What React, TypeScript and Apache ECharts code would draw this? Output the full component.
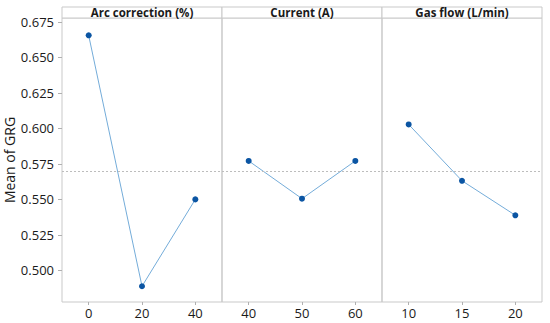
import React, { useEffect, useRef } from "react";
import * as echarts from "echarts";

const panelTitles = ["Arc correction (%)", "Current (A)", "Gas flow (L/min)"];
const arcLevels = ["0", "20", "40"];
const currentLevels = ["40", "50", "60"];
const gasLevels = ["10", "15", "20"];
const arcMeans = [0.6656, 0.4888, 0.55];
const currentMeans = [0.5771, 0.5505, 0.5771];
const gasMeans = [0.6028, 0.5631, 0.5388];
const overallMean = 0.5682;
const yTicks = [0.5, 0.525, 0.55, 0.575, 0.6, 0.625, 0.65, 0.675];

const FONT = "'Open Sans', 'Noto Sans', sans-serif";

export default function App() {
  const ref = useRef<HTMLDivElement>(null);
  useEffect(() => {
    if (!ref.current) return;
    const chart = echarts.init(ref.current, null, { renderer: "svg" });
    const levels = [arcLevels, currentLevels, gasLevels];
    const means = [arcMeans, currentMeans, gasMeans];
    const left0 = 62;
    const pw = 160;
    const top = 18;
    const h = 284;
    const grids = levels.map((_, i) => ({
      left: left0 + i * pw,
      top,
      width: pw,
      height: h,
      show: true,
      borderColor: "#c9c9c9",
      borderWidth: 1,
      backgroundColor: "transparent",
    }));
    const xAxes = levels.map((cats, i) => ({
      type: "category",
      gridIndex: i,
      data: cats,
      boundaryGap: true,
      axisLine: { show: false },
      axisTick: { show: true, alignWithLabel: true, length: 3, lineStyle: { color: "#b0b0b0" } },
      axisLabel: { color: "#1a1a1a", fontSize: 13, fontFamily: FONT, margin: 4 },
      splitLine: { show: false },
    }));
    const yAxes = levels.map((_, i) => ({
      type: "value",
      gridIndex: i,
      min: 0.4777,
      max: 0.6778,
      axisLine: { show: false },
      axisTick: { show: i === 0, length: 4, customValues: yTicks, lineStyle: { color: "#b0b0b0" } },
      axisLabel: {
        show: i === 0,
        customValues: yTicks,
        color: "#1a1a1a",
        fontSize: 13,
        fontFamily: FONT,
        margin: 8,
        formatter: (v: number) => v.toFixed(3),
      },
      splitLine: { show: false },
      name: i === 0 ? "Mean of GRG" : "",
      nameLocation: "middle",
      nameGap: 40,
      nameTextStyle: { color: "#1a1a1a", fontSize: 14, fontFamily: FONT },
    }));
    const series = means.map((vals, i) => ({
      type: "line",
      xAxisIndex: i,
      yAxisIndex: i,
      data: vals,
      symbol: "circle",
      symbolSize: 6,
      itemStyle: { color: "#0b55a3" },
      lineStyle: { color: "#74acd9", width: 1 },
      markLine: {
        silent: true,
        symbol: "none",
        label: { show: false },
        lineStyle: { color: "#bdbdbd", type: [2, 2], width: 1 },
        data: [{ yAxis: overallMean }],
      },
      z: 3,
    }));
    const graphic: any[] = [];
    panelTitles.forEach((t, i) => {
      graphic.push({
        type: "rect",
        shape: { x: left0 + i * pw, y: 7, width: pw, height: 11 },
        style: { fill: "#fff", stroke: "#c9c9c9", lineWidth: 1 },
      });
      graphic.push({
        type: "text",
        x: left0 + i * pw + pw / 2,
        y: 12.5,
        style: {
          text: t,
          fill: "#1a1a1a",
          font: `bold 11.5px ${FONT}`,
          align: "center",
          verticalAlign: "middle",
        },
      });
    });
    chart.setOption({
      animation: false,
      backgroundColor: "#fff",
      grid: grids,
      xAxis: xAxes,
      yAxis: yAxes,
      series,
      graphic,
    });
    return () => chart.dispose();
  }, []);
  return <div ref={ref} style={{ width: 550, height: 323, position: "absolute", left: 0, top: 0 }} />;
}
